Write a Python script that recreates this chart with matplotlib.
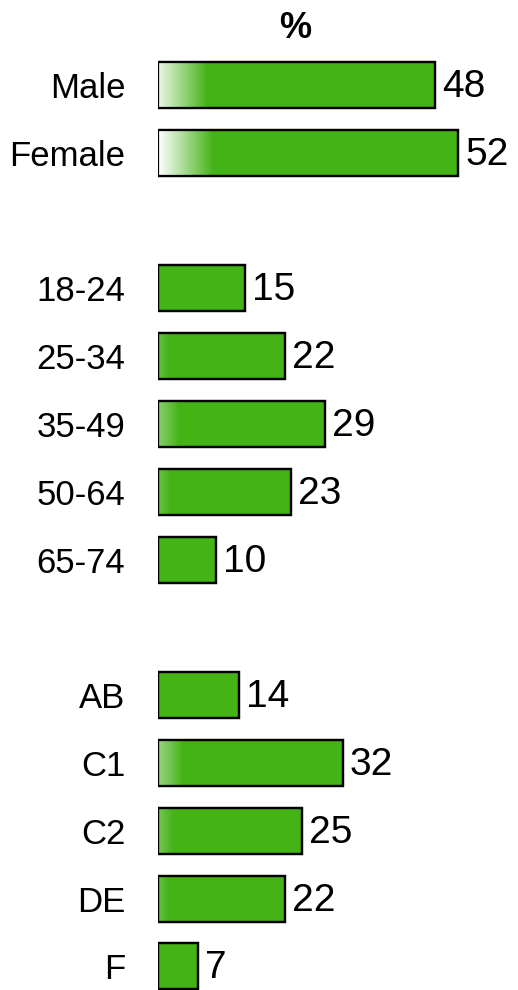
import numpy as np
import matplotlib
matplotlib.use("Agg")
import matplotlib.pyplot as plt

plt.rcParams['font.family'] = ['Liberation Sans', 'DejaVu Sans']

categories = ["Male", "Female", "18-24", "25-34", "35-49", "50-64", "65-74",
              "AB", "C1", "C2", "DE", "F"]
values = [48, 52, 15, 22, 29, 23, 10, 14, 32, 25, 22, 7]
positions = [0, 1, 3, 4, 5, 6, 7, 9, 10, 11, 12, 13]
title = "%"

W, H = 518, 990
fig = plt.figure(figsize=(W / 100, H / 100), dpi=100)
px_per_unit = 5.77
left_px = 158
ax = fig.add_axes([left_px / W, 0, 1 - left_px / W, 1])
slot = 67.8
top_center = 85

green = (0.263, 0.702, 0.086)
bh = 0.68
ax.barh(positions, values, height=bh, color=green, edgecolor='black',
        linewidth=1.6, zorder=2)

# white-to-green fade at the left end of each bar
G0 = 9.5
for p, v in zip(positions, values):
    g = 0.26 * (v - 15)
    if g <= 0:
        continue
    xs = np.linspace(0, g, 100)
    alpha = np.clip((g - xs) / G0, 0, 1)
    img = np.ones((1, 100, 4))
    img[0, :, 3] = alpha
    ax.imshow(img, extent=[0, g, p + bh / 2, p - bh / 2], aspect='auto',
              interpolation='bilinear', zorder=3)
ax.barh(positions, values, height=bh, color='none', edgecolor='black',
        linewidth=1.6, zorder=4)

for p, v in zip(positions, values):
    ax.text(v + 7 / px_per_unit, p + 0.03, str(v), ha='left', va='center',
            fontsize=28, color='black', zorder=5)

ax.set_yticks(positions)
ax.set_yticklabels(categories, fontsize=25)
ax.tick_params(axis='y', length=0, pad=23.5)
ax.set_xticks([])
for s in ax.spines.values():
    s.set_visible(False)
ax.set_xlim(0, (W - left_px) / px_per_unit)
ax.set_ylim((H - top_center) / slot, -top_center / slot)

fig.text(295 / W, 1 - 29 / H, title, ha='center', va='center',
         fontsize=26, fontweight='bold')

fig.savefig("out.png", dpi=100)
